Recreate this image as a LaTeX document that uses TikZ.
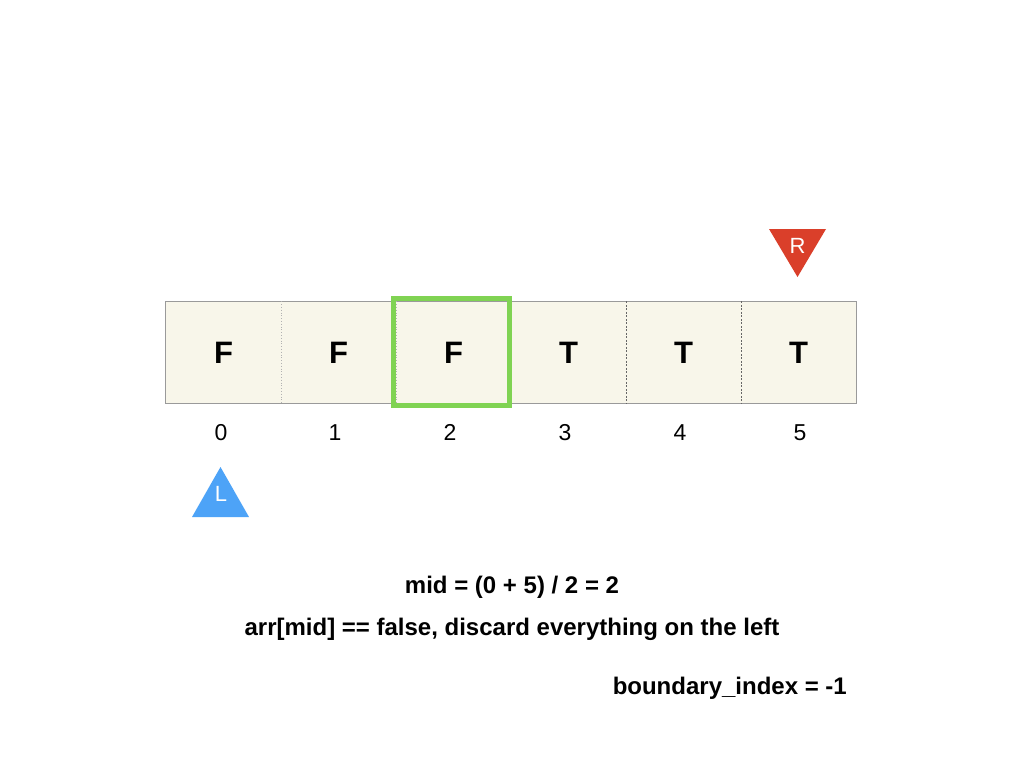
\documentclass[tikz,border=0pt]{standalone}
\usepackage{fontspec}
\setmainfont{Liberation Sans}
\begin{document}
\begin{tikzpicture}[x=1pt,y=-1pt,
  cell/.style={minimum width=115pt,minimum height=102pt,inner sep=0pt,fill=cellfill,font=\bfseries\fontsize{31}{33}\selectfont},
  idx/.style={font=\fontsize{23}{25}\selectfont,inner sep=0pt,anchor=base},
  msg/.style={font=\bfseries\fontsize{24}{28}\selectfont,inner sep=0pt},
  tri/.style={text=white,font=\fontsize{22}{24}\selectfont,inner sep=0pt}]
\definecolor{cellfill}{HTML}{F8F6EA}
\definecolor{bordergray}{HTML}{9A9A9A}
\definecolor{hlgreen}{HTML}{80D353}
\definecolor{rred}{HTML}{DA3F2A}
\definecolor{lblue}{HTML}{4DA3F7}
\useasboundingbox (0,0) rectangle (1024,768);
\fill[white] (0,0) rectangle (1024,768);
% cells
\node[cell] (c0) at (223.5,352.5) {F};
\node[cell] (c1) at (338.5,352.5) {F};
\node[cell] (c2) at (453.5,352.5) {F};
\node[cell] (c3) at (568.5,352.5) {T};
\node[cell] (c4) at (683.5,352.5) {T};
\node[cell] (c5) at (798.5,352.5) {T};
\draw[bordergray,line width=1pt] (c0.north west) rectangle (c5.south east);
\draw[gray!60,dotted,line width=0.8pt] (c0.north east) -- (c0.south east);
\draw[gray!60,dotted,line width=0.8pt] (c1.north east) -- (c1.south east);
\draw[gray!60,dotted,line width=0.8pt] (c2.north east) -- (c2.south east);
\draw[black!60,dash pattern=on 2pt off 1.5pt,line width=0.7pt] (c3.north east) -- (c3.south east);
\draw[black!60,dash pattern=on 2pt off 1.5pt,line width=0.7pt] (c4.north east) -- (c4.south east);
% highlight
\node[draw=hlgreen,line width=5pt,minimum width=116pt,minimum height=107pt,inner sep=0pt] (hl) at (451,352) {};
% indices
\node[idx] (i0) at (221,440) {0};
\node[idx] (i1) at (335,440) {1};
\node[idx] (i2) at (450,440) {2};
\node[idx] (i3) at (565,440) {3};
\node[idx] (i4) at (680,440) {4};
\node[idx] (i5) at (800,440) {5};
% pointers
\fill[rred] (769,229) -- (826,229) -- (797.5,277) -- cycle;
\node[tri] (R) at (797.5,246) {R};
\fill[lblue] (220.5,467) -- (249,517) -- (192,517) -- cycle;
\node[tri] (L) at (221,494) {L};
% messages
\node[msg] (m1) at (512,587) {mid = (0 + 5) / 2 = 2};
\node[msg] (m2) at (512,629) {arr[mid] == false, discard everything on the left};
\node[msg,anchor=east] (m3) at (847,688) {boundary\_index = -1};
\end{tikzpicture}
\end{document}
